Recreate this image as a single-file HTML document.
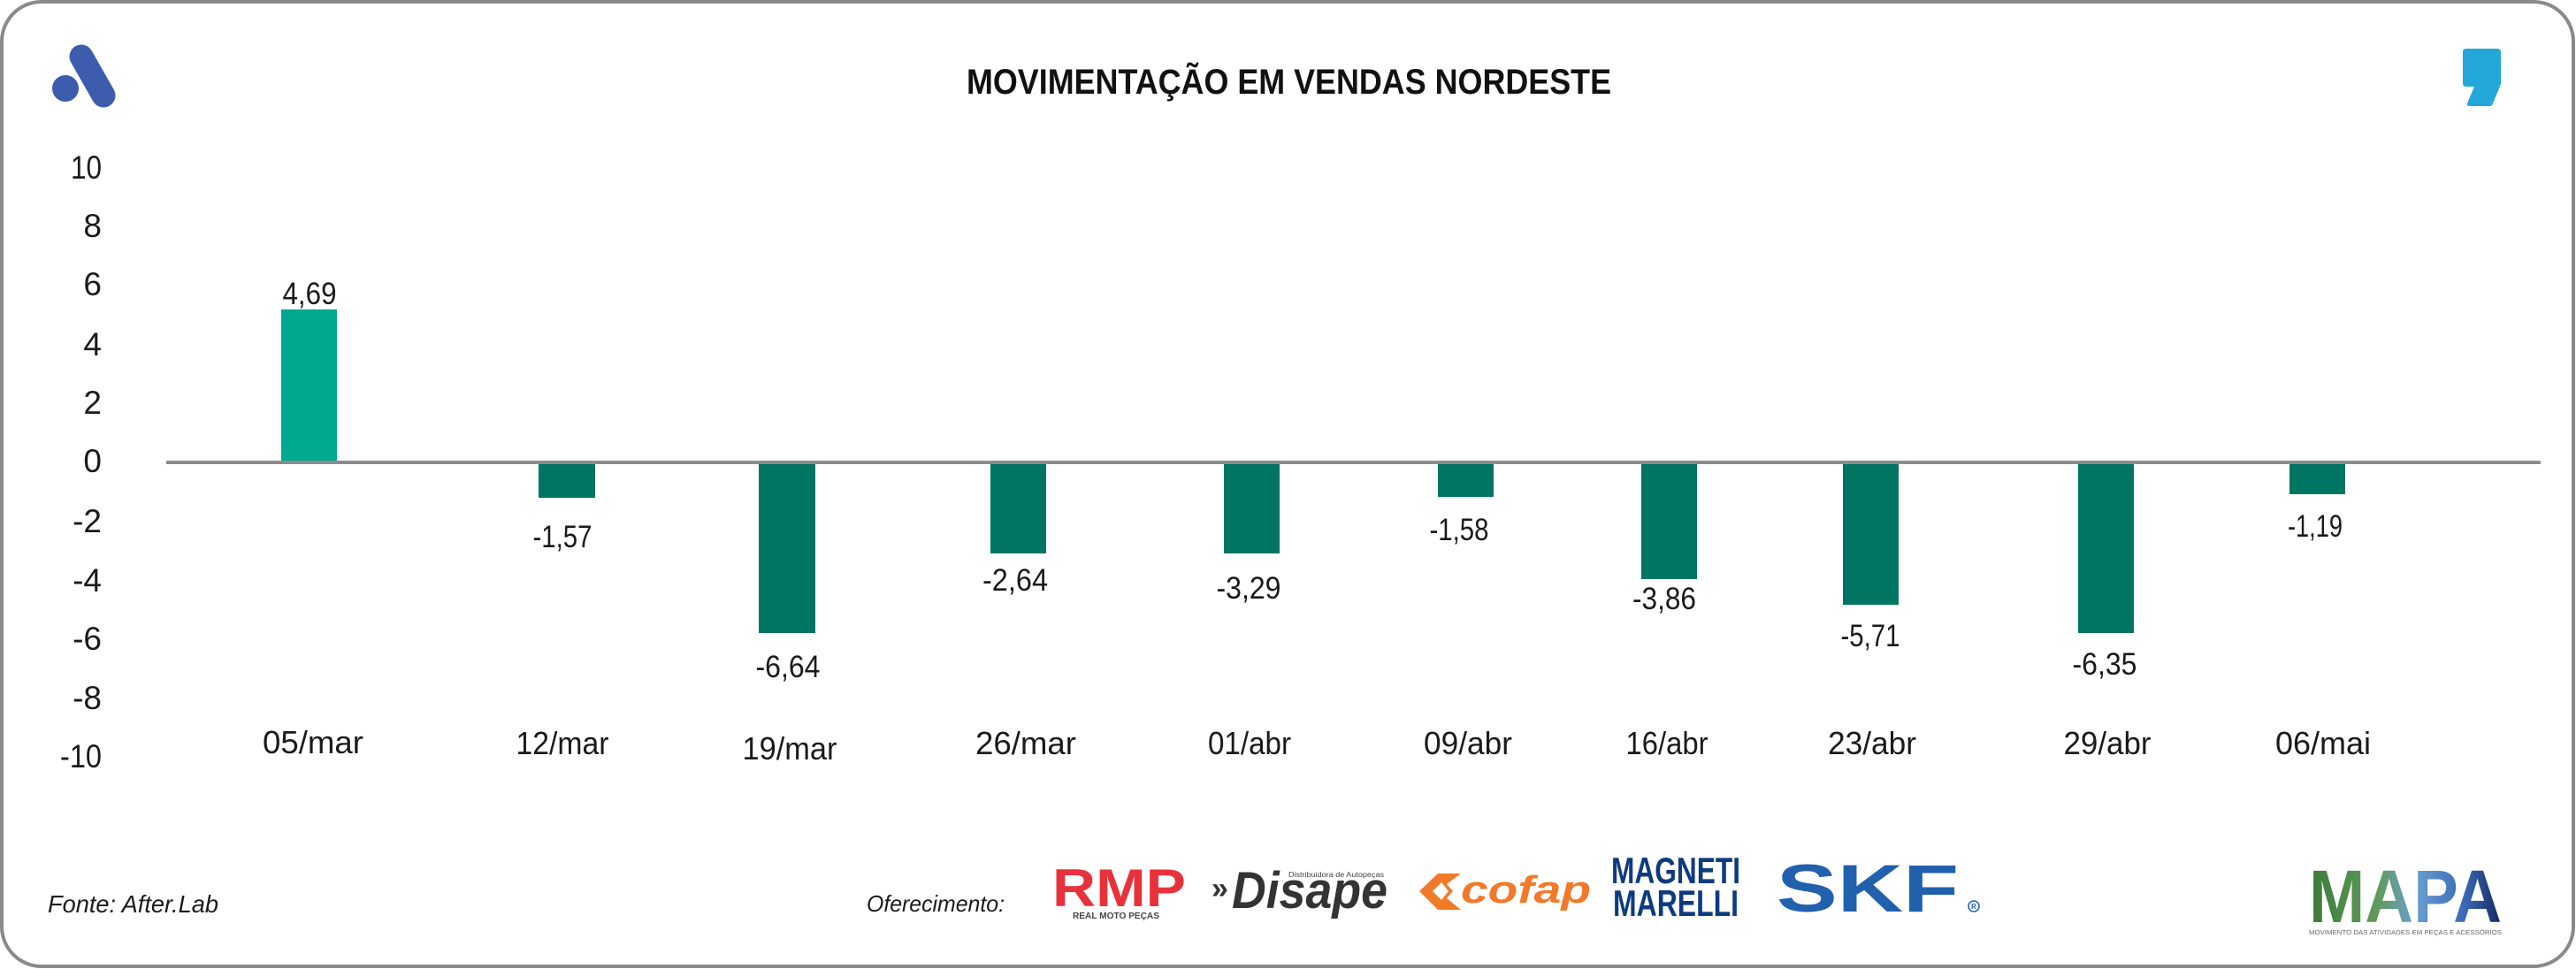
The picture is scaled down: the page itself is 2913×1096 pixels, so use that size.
<!DOCTYPE html>
<html>
<head>
<meta charset="utf-8">
<style>
  html,body{margin:0;padding:0;background:#fff;}
  svg{display:block;}
  text{font-family:"Liberation Sans", Arial, sans-serif;}
</style>
</head>
<body>
<svg width="2913" height="1096" viewBox="0 0 2913 1096" xmlns="http://www.w3.org/2000/svg">
  <defs>
    <linearGradient id="mapaG" x1="0" y1="0" x2="1" y2="0">
      <stop offset="0" stop-color="#3d7a3a"/>
      <stop offset="0.35" stop-color="#5f9a58"/>
      <stop offset="0.55" stop-color="#6a9fd0"/>
      <stop offset="0.8" stop-color="#3d6ab8"/>
      <stop offset="1" stop-color="#12285e"/>
    </linearGradient>
  </defs>
  <rect x="0" y="0" width="2913" height="1096" fill="#fff"/>
  <!-- frame -->
  <rect x="2" y="2" width="2908" height="1091" rx="45" ry="45" fill="none" stroke="#8a8a8a" stroke-width="4"/>

  <!-- top-left logo -->
  <circle cx="74" cy="100" r="15" fill="#3d5cad"/>
  <line x1="92" y1="64" x2="117" y2="108" stroke="#3d5cad" stroke-width="27" stroke-linecap="round"/>

  <!-- top-right comma logo -->
  <path d="M2789,55 H2824 Q2828,55 2828,59 V95 L2819,117 Q2818,120 2815,120 H2793 Q2789,120 2790,117 L2798,98 H2789 Q2785,98 2785,94 V59 Q2785,55 2789,55 Z" fill="#22a7d8"/>

  <!-- title -->
  <text x="1093" y="106" font-size="40" font-weight="bold" fill="#111" textLength="729" lengthAdjust="spacingAndGlyphs">MOVIMENTAÇÃO EM VENDAS NORDESTE</text>

  <!-- y axis labels -->
  <g font-size="37" fill="#1a1a1a" text-anchor="end">
    <text x="115" y="202" textLength="35" lengthAdjust="spacingAndGlyphs">10</text>
    <text x="115" y="268">8</text>
    <text x="115" y="334">6</text>
    <text x="115" y="402">4</text>
    <text x="115" y="468">2</text>
    <text x="115" y="534">0</text>
    <text x="115" y="602">-2</text>
    <text x="115" y="669">-4</text>
    <text x="115" y="735">-6</text>
    <text x="115" y="802">-8</text>
    <text x="115" y="868" textLength="47" lengthAdjust="spacingAndGlyphs">-10</text>
  </g>

  <!-- bars -->
  <rect x="318" y="350" width="63" height="173" fill="#00a98e"/>
  <g fill="#007561">
    <rect x="609" y="523" width="64" height="40"/>
    <rect x="858" y="523" width="64" height="193"/>
    <rect x="1120" y="523" width="63" height="103"/>
    <rect x="1384" y="523" width="63" height="103"/>
    <rect x="1626" y="523" width="63" height="39"/>
    <rect x="1856" y="523" width="63" height="132"/>
    <rect x="2084" y="523" width="63" height="161"/>
    <rect x="2350" y="523" width="63" height="193"/>
    <rect x="2589" y="523" width="63" height="36"/>
  </g>

  <!-- zero line -->
  <rect x="188" y="521" width="2685" height="4" fill="#8c8c8c"/>

  <!-- value labels -->
  <g font-size="35" fill="#1a1a1a" text-anchor="middle" lengthAdjust="spacingAndGlyphs">
    <text x="350" y="344" textLength="61" lengthAdjust="spacingAndGlyphs">4,69</text>
    <text x="636" y="619" textLength="67" lengthAdjust="spacingAndGlyphs">-1,57</text>
    <text x="891" y="766" textLength="73" lengthAdjust="spacingAndGlyphs">-6,64</text>
    <text x="1148" y="668" textLength="74" lengthAdjust="spacingAndGlyphs">-2,64</text>
    <text x="1412" y="677" textLength="73" lengthAdjust="spacingAndGlyphs">-3,29</text>
    <text x="1650" y="611" textLength="67" lengthAdjust="spacingAndGlyphs">-1,58</text>
    <text x="1882" y="689" textLength="72" lengthAdjust="spacingAndGlyphs">-3,86</text>
    <text x="2115" y="731" textLength="67" lengthAdjust="spacingAndGlyphs">-5,71</text>
    <text x="2380" y="763" textLength="73" lengthAdjust="spacingAndGlyphs">-6,35</text>
    <text x="2618" y="607" textLength="62" lengthAdjust="spacingAndGlyphs">-1,19</text>
  </g>

  <!-- x labels -->
  <g font-size="36" fill="#1a1a1a" text-anchor="middle">
    <text x="354" y="852" textLength="114" lengthAdjust="spacingAndGlyphs">05/mar</text>
    <text x="636" y="853" textLength="105" lengthAdjust="spacingAndGlyphs">12/mar</text>
    <text x="893" y="859" textLength="107" lengthAdjust="spacingAndGlyphs">19/mar</text>
    <text x="1160" y="853" textLength="114" lengthAdjust="spacingAndGlyphs">26/mar</text>
    <text x="1413" y="853" textLength="94" lengthAdjust="spacingAndGlyphs">01/abr</text>
    <text x="1660" y="853" textLength="100" lengthAdjust="spacingAndGlyphs">09/abr</text>
    <text x="1885" y="853" textLength="93" lengthAdjust="spacingAndGlyphs">16/abr</text>
    <text x="2117" y="853" textLength="100" lengthAdjust="spacingAndGlyphs">23/abr</text>
    <text x="2383" y="853" textLength="99" lengthAdjust="spacingAndGlyphs">29/abr</text>
    <text x="2627" y="853" textLength="108" lengthAdjust="spacingAndGlyphs">06/mai</text>
  </g>

  <!-- footer -->
  <text x="54" y="1032" font-size="28" font-style="italic" fill="#1a1a1a" textLength="193" lengthAdjust="spacingAndGlyphs">Fonte: After.Lab</text>
  <text x="980" y="1031" font-size="26" font-style="italic" fill="#1a1a1a" textLength="156" lengthAdjust="spacingAndGlyphs">Oferecimento:</text>

  <!-- RMP -->
  <text x="1190" y="1025" font-size="60" font-weight="bold" fill="#e8323b" textLength="151" lengthAdjust="spacingAndGlyphs">RMP</text>
  <text x="1213" y="1039" font-size="10" font-weight="bold" fill="#444" textLength="98" lengthAdjust="spacingAndGlyphs">REAL MOTO PEÇAS</text>

  <!-- Disape -->
  <text x="1370" y="1016" font-size="34" font-weight="bold" fill="#333">»</text>
  <text x="1393" y="1027" font-size="58" font-weight="bold" font-style="italic" fill="#333" textLength="176" lengthAdjust="spacingAndGlyphs">Disape</text>
  <text x="1457" y="992" font-size="8" fill="#444" textLength="108" lengthAdjust="spacingAndGlyphs">Distribuidora de Autopeças</text>

  <!-- cofap -->
  <polygon points="1605,1008 1626,988 1652,988 1636,1000 1643,1008 1636,1016 1652,1029 1626,1029" fill="#f07a2a"/>
  <polygon points="1620,1008 1630,998 1638,1008 1630,1018" fill="#fff"/>
  <text x="1652" y="1021" font-size="44" font-weight="bold" font-style="italic" fill="#f07a2a" textLength="147" lengthAdjust="spacingAndGlyphs">cofap</text>

  <!-- Magneti Marelli -->
  <text x="1822" y="999" font-size="42" font-weight="bold" fill="#0e3a80" textLength="146" lengthAdjust="spacingAndGlyphs">MAGNETI</text>
  <text x="1824" y="1036" font-size="42" font-weight="bold" fill="#0e3a80" textLength="142" lengthAdjust="spacingAndGlyphs">MARELLI</text>

  <!-- SKF -->
  <text x="2009" y="1031" font-size="76" font-weight="bold" fill="#2160ad" textLength="206" lengthAdjust="spacingAndGlyphs">SKF</text>
  <circle cx="2232" cy="1025" r="6" fill="none" stroke="#2160ad" stroke-width="1.5"/>
  <text x="2232" y="1028" font-size="8" font-weight="bold" fill="#2160ad" text-anchor="middle">R</text>

  <!-- MAPA -->
  <text x="2611" y="1043" font-size="84" font-weight="bold" fill="url(#mapaG)" textLength="218" lengthAdjust="spacingAndGlyphs">MAPA</text>
  <text x="2611" y="1057" font-size="7" fill="#666" textLength="218" lengthAdjust="spacingAndGlyphs">MOVIMENTO DAS ATIVIDADES EM PEÇAS E ACESSÓRIOS</text>
</svg>
</body>
</html>
